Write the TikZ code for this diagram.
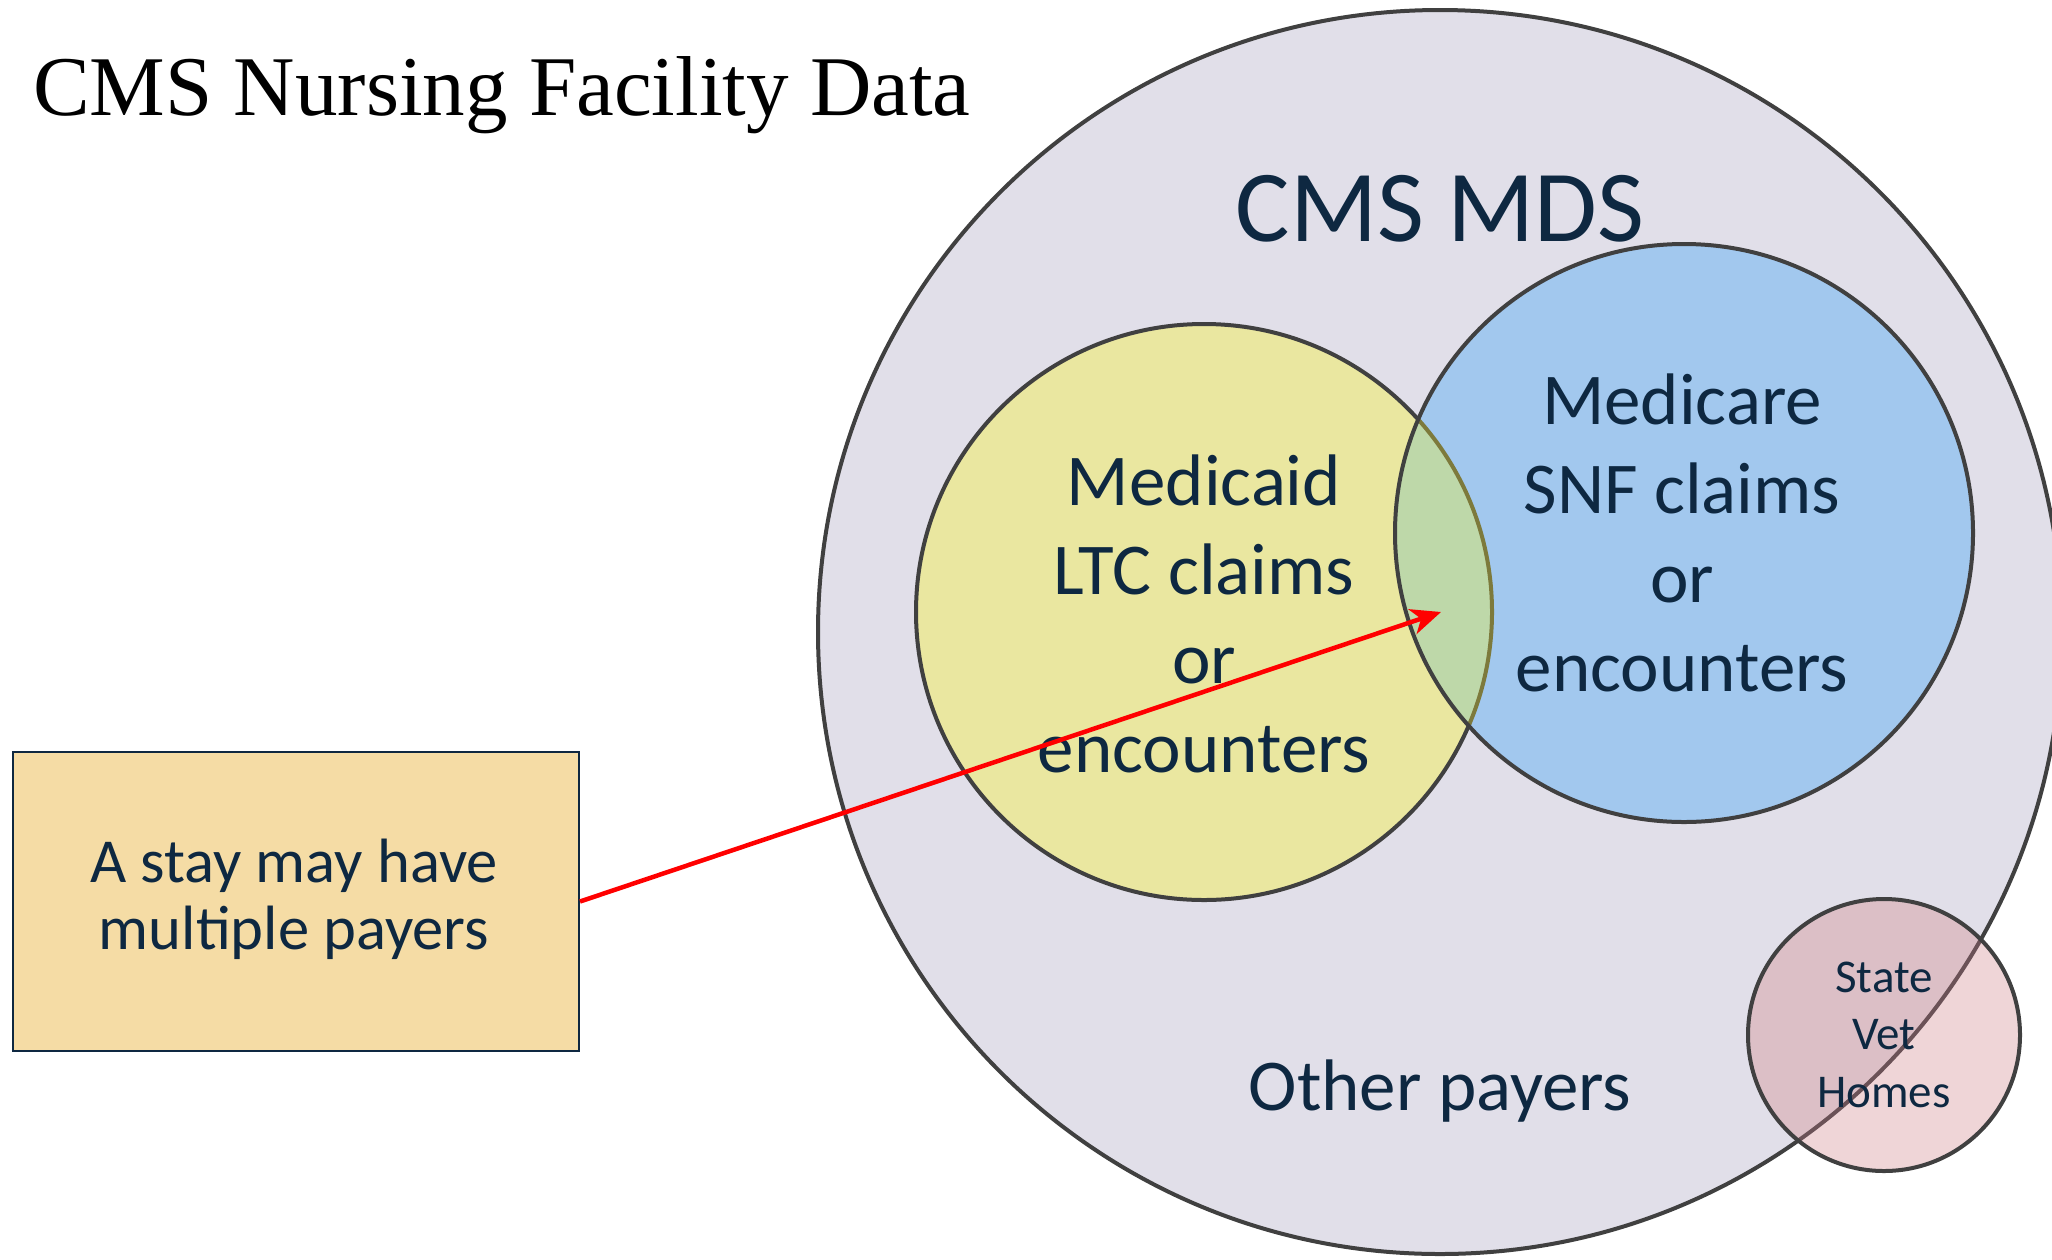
\documentclass[tikz,border=0pt]{standalone}
\usepackage{fontspec}
\setmainfont{Carlito}
\newfontfamily\titlefont{Liberation Serif}
\usetikzlibrary{arrows.meta}
\definecolor{navy}{HTML}{0E2841}
\definecolor{lav}{HTML}{E1DFE9}
\definecolor{ring}{HTML}{404040}
\definecolor{ylw}{HTML}{EAE7A0}
\definecolor{blu}{HTML}{A2C8EE}
\definecolor{grn}{HTML}{BED8A9}
\definecolor{olv}{HTML}{7D7A3C}
\definecolor{pinkw}{HTML}{EFD5D7}
\definecolor{pinkl}{HTML}{DCBFC6}
\definecolor{brn}{HTML}{6B5257}
\definecolor{boxfill}{HTML}{F5DCA5}
\tikzset{
  ringline/.style={draw=ring, line width=4pt},
  label/.style={text=navy, align=center, anchor=base, inner sep=0pt},
}
\begin{document}
\begin{tikzpicture}[x=1pt,y=-1pt]
\useasboundingbox (0,0) rectangle (2052,1259);
% big MDS circle
\coordinate (cmds) at (1440,632);
\coordinate (cmcd) at (1204,612);
\coordinate (cmcr) at (1684,533);
\coordinate (cvet) at (1884,1035);
\fill[lav] (cmds) circle[radius=622pt];
\draw[ringline] (cmds) circle[radius=622pt];
% Medicaid
\fill[ylw] (cmcd) circle[radius=288pt];
\draw[ringline] (cmcd) circle[radius=288pt];
% Medicare
\fill[blu] (cmcr) circle[radius=289pt];
\begin{scope}
  \clip (cmcr) circle[radius=289pt];
  \fill[grn] (cmcd) circle[radius=288pt];
  \draw[olv, line width=4pt] (cmcd) circle[radius=288pt];
\end{scope}
\draw[ringline] (cmcr) circle[radius=289pt];
% State vet homes
\fill[pinkw] (cvet) circle[radius=136pt];
\begin{scope}
  \clip (cvet) circle[radius=136pt];
  \fill[pinkl] (cmds) circle[radius=622pt];
  \draw[brn, line width=4pt] (cmds) circle[radius=622pt];
\end{scope}
\draw[ringline] (cvet) circle[radius=136pt];
% texts
\node[anchor=base west, inner sep=0pt, font=\titlefont\fontsize{85}{100}\selectfont] (title) at (33,115) {CMS Nursing Facility Data};
\node[label, font=\fontsize{102}{120}\selectfont] (mds) at (1440,241) {CMS MDS};
\node[label, font=\fontsize{73}{89}\selectfont] (mcd) at (1204,772) {Medicaid\\LTC claims\\or\\encounters};
\node[label, font=\fontsize{73}{89}\selectfont] (mcr) at (1682,691) {Medicare\\SNF claims\\or\\encounters};
\node[label, font=\fontsize{73}{89}\selectfont] (oth) at (1440,1110) {Other payers};
\node[label, font=\fontsize{47}{57.5}\selectfont] (vet) at (1884,1107) {State\\Vet\\Homes};
% box
\node[draw=navy, line width=2pt, fill=boxfill, minimum width=566pt, minimum height=299pt, inner sep=0pt, anchor=north west] (box) at (12,751) {};
\node[label, font=\fontsize{62.6}{67}\selectfont] (boxtxt) at (294,949) {A stay may have\\multiple payers};
% arrow
\coordinate (tip) at (1441,612);
\draw[red, line width=4.5pt, -{Stealth[length=30pt,width=26pt,inset=9pt]}] (box.east) -- (tip);
\end{tikzpicture}
\end{document}
